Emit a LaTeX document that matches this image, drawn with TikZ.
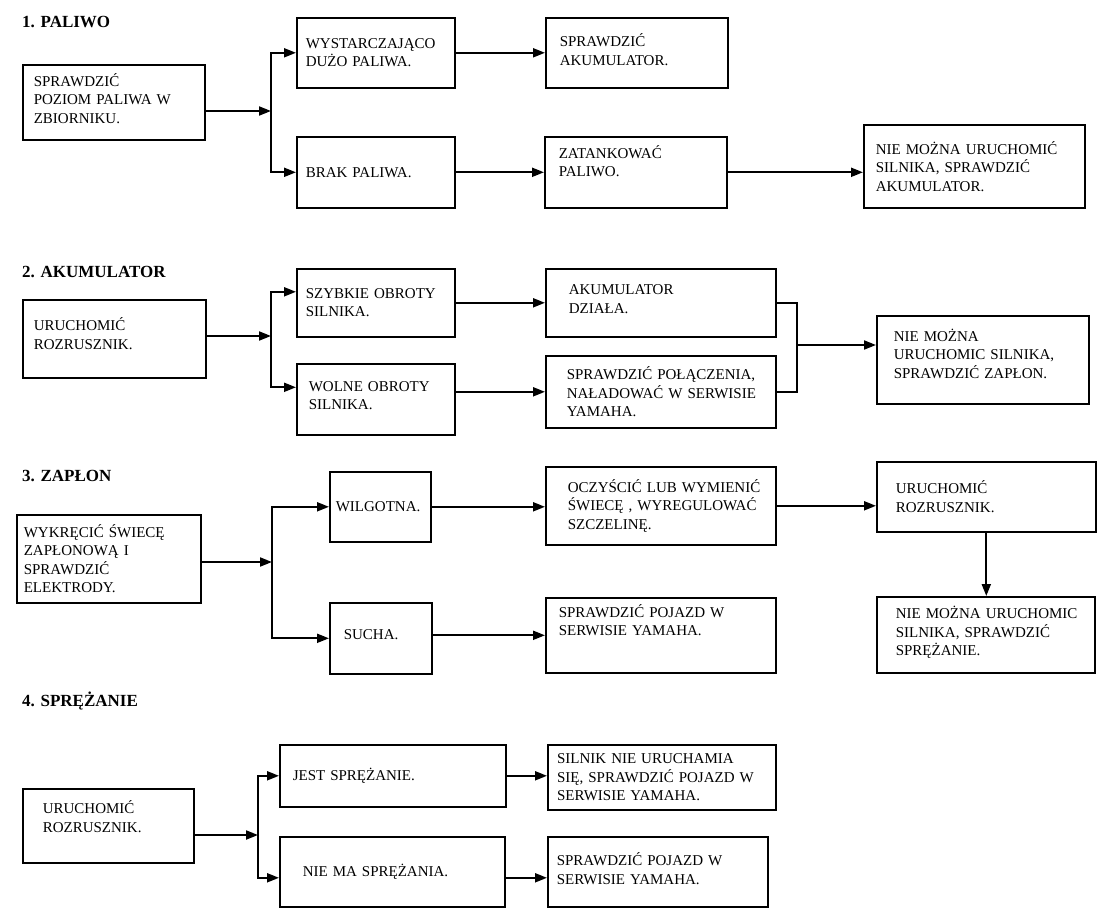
\documentclass[tikz,border=0pt]{standalone}
\usepackage{fontspec}
\setmainfont{Liberation Serif}
\usetikzlibrary{arrows.meta,positioning,calc}
\hyphenpenalty=10000
\exhyphenpenalty=10000

\begin{document}
\begin{tikzpicture}[
  x=1pt, y=-1pt,
  stepbox/.style={
    draw,
    line width=1.6pt,
    anchor=north west,
    align=left,
    inner ysep=0pt,
    font=\fontsize{15pt}{18.5pt}\selectfont
  },
  heading/.style={anchor=west,inner sep=0pt,font=\bfseries\fontsize{17pt}{20pt}\selectfont},
  lift/.style={text depth=#1},
  line/.style={line width=2pt},
  arrow/.style={-{Triangle[length=12pt,width=9pt]},line width=2pt}
]
  \useasboundingbox (0,0) rectangle (1101,915);

  \node[heading] (t1) at (22,22) {1. PALIWO};
  \node[stepbox,text width=160pt,inner xsep=11pt,minimum height=75pt,lift=45pt] (a1) at (22,64) {SPRAWDZIĆ\\POZIOM PALIWA W\\ZBIORNIKU.};
  \coordinate (j1) at (271,111);
  \node[stepbox,text width=140pt,inner xsep=9pt,minimum height=70pt] (b1) at (296,17) {WYSTARCZAJĄCO\\DUŻO PALIWA.};
  \node[stepbox,text width=140pt,inner xsep=9pt,minimum height=71pt] (b2) at (296,136) {BRAK PALIWA.};
  \node[stepbox,text width=154pt,inner xsep=14pt,minimum height=70pt,lift=24.5pt] (c1) at (545,17) {SPRAWDZIĆ\\AKUMULATOR.};
  \node[stepbox,text width=154pt,inner xsep=14pt,minimum height=71pt,lift=40.5pt] (c2) at (544,136) {ZATANKOWAĆ\\PALIWO.};
  \node[stepbox,text width=197pt,inner xsep=12pt,minimum height=83pt] (d2) at (863,124) {NIE MOŻNA URUCHOMIĆ\\SILNIKA, SPRAWDZIĆ\\AKUMULATOR.};
  \draw[arrow] (a1.east |- j1) -- (j1);
  \draw[arrow] (j1) |- (b1);
  \draw[arrow] (j1) |- (b2);
  \draw[arrow] (b1) -- (c1);
  \draw[arrow] (b2) -- (c2);
  \draw[arrow] (c2.east) -- (c2.east -| d2.west);

  \node[heading] (t2) at (22,272) {2. AKUMULATOR};
  \node[stepbox,text width=161pt,inner xsep=11pt,minimum height=78pt,lift=28.5pt] (a2) at (22,299) {URUCHOMIĆ\\ROZRUSZNIK.};
  \coordinate (j2) at (271,336);
  \node[stepbox,text width=140pt,inner xsep=9pt,minimum height=68pt] (b3) at (296,268) {SZYBKIE OBROTY\\SILNIKA.};
  \node[stepbox,text width=134pt,inner xsep=12pt,minimum height=71pt,lift=26.5pt] (b4) at (296,363) {WOLNE OBROTY\\SILNIKA.};
  \node[stepbox,text width=184pt,inner xsep=23pt,minimum height=68pt,lift=26.5pt] (c3) at (545,268) {AKUMULATOR\\DZIAŁA.};
  \node[stepbox,text width=188pt,inner xsep=21pt,minimum height=72pt] (c4) at (545,355) {SPRAWDZIĆ~POŁĄCZENIA,\\NAŁADOWAĆ~W~SERWISIE\\YAMAHA.};
  \coordinate (m2) at (797,345);
  \node[stepbox,text width=178pt,inner xsep=17pt,minimum height=88pt,lift=49pt] (d3) at (876,315) {NIE MOŻNA\\URUCHOMIC SILNIKA,\\SPRAWDZIĆ ZAPŁON.};
  \coordinate (b3in) at ([yshift=11pt]b3.west);
  \coordinate (b4in) at ([yshift=12pt]b4.west);
  \draw[arrow] (a2.east |- j2) -- (j2);
  \draw[arrow] (j2) |- (b3in);
  \draw[arrow] (j2) |- (b4in);
  \draw[arrow] (b3) -- (c3);
  \draw[arrow] (b4.east |- c4.west) -- (c4.west);
  \draw[line] (c3.east) -| (m2) |- (c4.east);
  \draw[arrow] (m2) -- (m2 -| d3.west);

  \node[heading] (t3) at (22,476) {3. ZAPŁON};
  \node[stepbox,text width=170pt,inner xsep=7pt,minimum height=88pt] (a3) at (16,514) {WYKRĘCIĆ ŚWIECĘ\\ZAPŁONOWĄ I\\SPRAWDZIĆ\\ELEKTRODY.};
  \coordinate (j3) at (272,562);
  \node[stepbox,text width=89pt,inner xsep=6pt,minimum height=70pt] (b5) at (329,471) {WILGOTNA.};
  \node[stepbox,text width=74pt,inner xsep=14pt,minimum height=71pt,lift=8pt] (b6) at (329,602) {SUCHA.};
  \node[stepbox,text width=186pt,inner xsep=22pt,minimum height=78pt] (c5) at (545,466) {OCZYŚCIĆ~LUB~WYMIENIĆ\\ŚWIECĘ~,~WYREGULOWAĆ\\SZCZELINĘ.};
  \node[stepbox,text width=181pt,inner xsep=19pt,minimum height=70pt] (d5) at (876,461) {URUCHOMIĆ\\ROZRUSZNIK.};
  \node[stepbox,text width=180pt,inner xsep=19pt,minimum height=76pt,lift=44pt] (e5) at (876,596) {NIE~MOŻNA~URUCHOMIC\\SILNIKA, SPRAWDZIĆ\\SPRĘŻANIE.};
  \node[stepbox,text width=204pt,inner xsep=13pt,minimum height=75pt,lift=48.5pt] (c6) at (545,597) {SPRAWDZIĆ POJAZD W\\SERWISIE YAMAHA.};
  \draw[arrow] (a3.east |- j3) -- (j3);
  \draw[arrow] (j3) |- (b5);
  \draw[arrow] (j3) |- (b6);
  \draw[arrow] (b5.east) -- (b5.east -| c5.west);
  \draw[arrow] (b6.east |- c6.west) -- (c6.west);
  \draw[arrow] (c5.east) -- (c5.east -| d5.west);
  \draw[arrow] (d5.south) -- (d5.south |- e5.north);

  \node[heading] (t4) at (22,701) {4. SPRĘŻANIE};
  \node[stepbox,text width=131pt,inner xsep=20pt,minimum height=74pt,lift=37pt] (a4) at (22,788) {URUCHOMIĆ\\ROZRUSZNIK.};
  \coordinate (j4) at (258,835);
  \node[stepbox,text width=200pt,inner xsep=13pt,minimum height=62pt] (b7) at (279,744) {JEST SPRĘŻANIE.};
  \node[stepbox,text width=179pt,inner xsep=23pt,minimum height=70pt] (b8) at (279,836) {NIE MA SPRĘŻANIA.};
  \node[stepbox,line width=2.2pt,text width=210pt,inner xsep=9pt,minimum height=65pt] (c7) at (547,744) {SILNIK NIE URUCHAMIA\\SIĘ, SPRAWDZIĆ POJAZD W\\SERWISIE YAMAHA.};
  \node[stepbox,text width=202pt,inner xsep=9pt,minimum height=70pt,lift=24.5pt] (c8) at (547,836) {SPRAWDZIĆ POJAZD W\\SERWISIE YAMAHA.};
  \coordinate (b8in) at ([yshift=-6pt]b8.west);
  \draw[arrow] (a4.east |- j4) -- (j4);
  \draw[arrow] (j4) |- (b7);
  \draw[arrow] (j4) |- (b8in);
  \draw[arrow] (b7.east) -- (b7.east -| c7.west);
  \draw[arrow] (b8in -| b8.east) -- (b8in -| c8.west);
\end{tikzpicture}
\end{document}
